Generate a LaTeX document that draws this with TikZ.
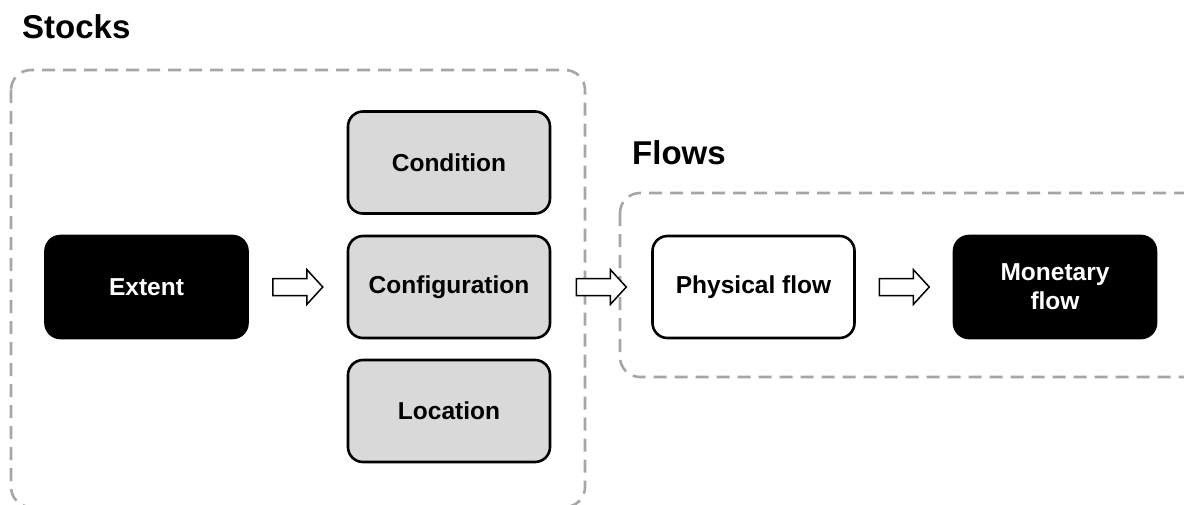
\documentclass[tikz,border=0pt]{standalone}
\usepackage{fontspec}
\setmainfont{Liberation Sans}
\usetikzlibrary{calc}
\definecolor{dashgray}{HTML}{A6A6A6}
\definecolor{boxgray}{HTML}{D9D9D9}
\tikzset{
  x=1pt, y=1pt,
  group/.style={draw=dashgray, line width=2.6pt, dash pattern=on 13pt off 8pt, rounded corners=20pt},
  header/.style={anchor=base west, font=\fontsize{33}{38}\selectfont\bfseries, inner sep=0pt},
  basebox/.style={rectangle, rounded corners=15pt, line width=2.6pt, minimum width=202pt, minimum height=102pt,
    font=\fontsize{24.5}{29}\selectfont\bfseries, align=center, inner sep=0pt},
  darkbox/.style={basebox, draw=black, fill=black, text=white},
  graybox/.style={basebox, draw=black, fill=boxgray},
  whitebox/.style={basebox, draw=black, fill=white},
  barrow/.style={draw=black, fill=white, line width=1.5pt, line join=miter},
}
\newcommand\blockarrow[2]{%
  \begin{scope}[shift={($(#1.east)!0.5!(#2.west)$)}]
    \draw[barrow] (-25,8.5) -- (9,8.5) -- (9,17.5) -- (25,0) -- (9,-17.5) -- (9,-8.5) -- (-25,-8.5) -- cycle;
  \end{scope}}
\begin{document}
\begin{tikzpicture}
\useasboundingbox (0,0) rectangle (1184,-504);
\clip (0,0) rectangle (1184,-504);
\fill[white] (0,0) rectangle (1184,-504);
% groups
\draw[group] (11,-70) rectangle (585,-507);
\draw[group] (620,-193) rectangle (1215,-377);
\node[header] (stockslbl) at (22,-38) {Stocks};
\node[header] (flowslbl) at (632,-164) {Flows};
% nodes
\node[darkbox] (extent) at (146.5,-287) {Extent};
\node[graybox] (condition) at (449,-162.5) {Condition};
\node[graybox] (config) at (449,-287) {Configuration};
\node[graybox] (location) at (449,-411) {Location};
\node[whitebox] (physical) at (753.5,-287) {Physical flow};
\node[darkbox] (monetary) at (1055,-287) {Monetary\\flow};
% arrows
\blockarrow{extent}{config}
\blockarrow{config}{physical}
\blockarrow{physical}{monetary}
\end{tikzpicture}
\end{document}
